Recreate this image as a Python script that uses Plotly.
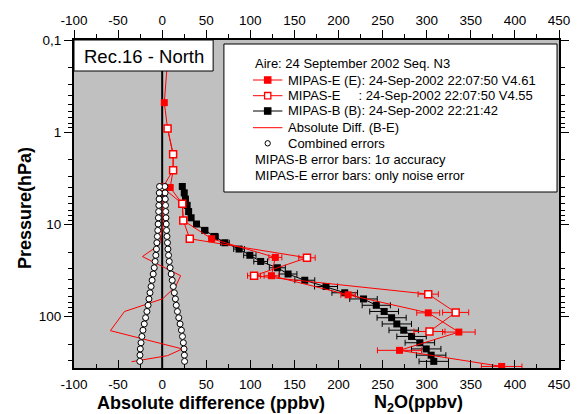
import plotly.graph_objects as go

W, H = 580, 414
ML, MR, MT, MB = 74, 11, 40, 46
PW, PH = W - ML - MR, H - MT - MB


def px(x):
    return (x - ML) / PW


def py(y):
    return (H - MB - y) / PH


# ---------------- data ----------------
# MIPAS-B (balloon) N2O profile
p_b = [3.88, 4.55, 5.31, 6.21, 7.25, 8.48, 9.9, 11.6, 13.5, 15.8, 18.5, 21.6, 25.2, 29.5,
       34.5, 40.3, 47.1, 55.1, 64.3, 75.3, 87.9, 102.8, 120, 140.3, 164, 191.9, 223.9,
       261.8, 305.6]
n2o_b = [22.8, 25, 26.4, 28.3, 30, 32.8, 38.9, 48.3, 59.4, 71.1, 87.2, 99.4, 111.7, 130.6,
         142.8, 161.7, 185.8, 207, 228.3, 242.8, 251.7, 260.2, 266.1, 273.9, 282.8, 292.2,
         299.4, 305, 308]
err_b = [1.6, 1.75, 1.85, 2, 2.1, 2.3, 2.7, 3.4, 4.2, 5, 6.1, 7, 7.8, 9.1, 10, 11.3, 13,
         14.5, 15.6, 16, 16.3, 16.5, 16.6, 16.7, 16.7, 16.7, 16.7, 16.7, 16.7]
# combined errors (plotted as +/-)
comb_err = [3, 3.3, 3.5, 3.8, 4, 4.3, 4.6, 5, 5.5, 6, 6.5, 7.2, 8, 9, 10.2, 11.4, 12.6,
            13.8, 15, 16, 17.3, 18.8, 20.3, 21.8, 23, 24, 24.8, 25.2, 25.4]

# MIPAS-E V4.61 (filled)
p_e = [0.17, 0.478, 0.914, 1.73, 2.58, 3.98, 5.98, 9.07, 14.3, 22.8, 36, 58, 91, 147, 232, 347]
n2o_e = [6.0, 2.4, 6.1, 12.4, 12.4, 9.1, 22.8, 23.9, 56.1, 128.3, 123.9, 210.9, 301.7,
         336.4, 269.1, 385]
err_e = [1, 1.5, 1.5, 2, 2, 2, 2, 2.5, 3, 7.4, 8.3, 8.3, 13, 18.5, 25, 23]

# MIPAS-E V4.55 (open)
p_e2 = [0.914, 1.73, 2.58, 3.98, 5.98, 9.07, 14.3, 23, 36, 57, 90, 145]
n2o_e2 = [6.1, 12.4, 12.4, 0.6, 22.8, 23.9, 31.3, 164.2, 104.2, 301.7, 332.8, 303.1]
err_e2 = [1.5, 1.5, 2, 2, 2, 2, 2, 9.3, 7.4, 11.5, 14.8, 17.6]

# Absolute difference (B-E)
p_diff = [3.9, 6.2, 9.9, 13.5, 16.6, 22.3, 36, 47, 64, 88, 142, 224, 265, 308]
diff = [2, 0, 1, -1, -3, -22.4, 20.9, 15.3, 0.6, -42.8, -58.7, 22.8, 6.1, -34.7]

x_ticks = [-100, -50, 0, 50, 100, 150, 200, 250, 300, 350, 400, 450]
x_ticktext = ["-100", "-50", "0", "50", "100", "150", "200", "250", "300", "350", "400", "450"]
y_ticks = [0.1, 1, 10, 100]
y_ticktext = ["0,1", "1", "10", "100"]

RED = "#ff0000"
FONT = "Liberation Sans, Arial, sans-serif"

fig = go.Figure()

# difference axis (top) traces
fig.add_trace(go.Scatter(x=diff, y=p_diff, xaxis="x2", yaxis="y", mode="lines",
                         line=dict(color=RED, width=1), hoverinfo="skip"))
fig.add_trace(go.Scatter(x=comb_err + [-e for e in comb_err], y=p_b + p_b, xaxis="x2",
                         yaxis="y", mode="markers",
                         marker=dict(symbol="circle", size=6, color="white",
                                     line=dict(color="black", width=1))))
# N2O traces
fig.add_trace(go.Scatter(x=n2o_b, y=p_b, mode="lines+markers",
                         line=dict(color="black", width=1),
                         marker=dict(symbol="square", size=7, color="black"),
                         error_x=dict(type="data", array=err_b, color="black",
                                      thickness=1, width=3)))
fig.add_trace(go.Scatter(x=n2o_e, y=p_e, mode="lines+markers",
                         line=dict(color=RED, width=1),
                         marker=dict(symbol="square", size=7, color=RED),
                         error_x=dict(type="data", array=err_e, color=RED,
                                      thickness=1, width=3)))
fig.add_trace(go.Scatter(x=n2o_e2, y=p_e2, mode="lines+markers",
                         line=dict(color=RED, width=1),
                         marker=dict(symbol="square", size=7, color="white",
                                     line=dict(color=RED, width=1.5)),
                         error_x=dict(type="data", array=err_e2, color=RED,
                                      thickness=1, width=3)))

shapes = []
# zero line
shapes.append(dict(type="line", xref="x", yref="paper", x0=0, x1=0, y0=0, y1=1,
                   line=dict(color="black", width=2), layer="below"))
# Rec box
shapes.append(dict(type="rect", xref="paper", yref="paper", x0=px(74), x1=px(216),
                   y0=py(71), y1=py(40), fillcolor="white",
                   line=dict(color="black", width=1), layer="above"))
# legend box
shapes.append(dict(type="rect", xref="paper", yref="paper", x0=px(227), x1=px(567),
                   y0=py(192), y1=py(44), fillcolor="white",
                   line=dict(color="black", width=1), layer="above"))

rows = [80, 95.7, 111, 127.7, 143.3]
lx0, lx1, lxc = 256.7, 286.7, 271.7


def seg(y, color):
    shapes.append(dict(type="line", xref="paper", yref="paper", x0=px(lx0), x1=px(lx1),
                       y0=py(y), y1=py(y), line=dict(color=color, width=1), layer="above"))


def sq(y, fill, edge, s=3.2):
    shapes.append(dict(type="rect", xref="paper", yref="paper", x0=px(lxc - s), x1=px(lxc + s),
                       y0=py(y + s), y1=py(y - s), fillcolor=fill,
                       line=dict(color=edge, width=1.3), layer="above"))


seg(rows[0], RED); sq(rows[0], RED, RED)
seg(rows[1], RED); sq(rows[1], "white", RED)
seg(rows[2], "black"); sq(rows[2], "black", "black")
seg(rows[3], RED)
shapes.append(dict(type="circle", xref="paper", yref="paper", x0=px(lxc - 2.7), x1=px(lxc + 2.7),
                   y0=py(rows[4] + 2.7), y1=py(rows[4] - 2.7), fillcolor="white",
                   line=dict(color="black", width=1), layer="above"))

ann = []


def txt(x, y, s, size=13, xanchor="left", **kw):
    ann.append(dict(text=s, x=px(x), y=py(y), xref="paper", yref="paper", showarrow=False,
                    xanchor=xanchor, yanchor="middle", font=dict(family=FONT, size=size,
                                                                 color="black"), **kw))


txt(145, 56, "Rec.16 - North", size=18.5, xanchor="center")
txt(256.7, 64, "Aire: 24 September 2002 Seq. N3")
txt(290, rows[0], "MIPAS-E (E): 24-Sep-2002 22:07:50 V4.61")
txt(290, rows[1], "MIPAS-E\u00a0\u00a0\u00a0\u00a0\u00a0: 24-Sep-2002 22:07:50 V4.55")
txt(290, rows[2], "MIPAS-B (B): 24-Sep-2002 22:21:42")
txt(290, rows[3], "Absolute Diff. (B-E)")
txt(290, rows[4], "Combined errors")
txt(256.7, 159.3, "MIPAS-B error bars: 1\u03c3 accuracy")
txt(256.7, 175.3, "MIPAS-E error bars: only noise error")
txt(213.5, 403, "<b>Absolute difference (ppbv)</b>", size=18, xanchor="center")
txt(378, 403, "<b>N<sub>2</sub>O(ppbv)</b>", size=18)
txt(24, 208, "<b>Pressure(hPa)</b>", size=18, xanchor="center", textangle=-90)

axis_common = dict(range=[-100, 450], tickmode="array", tickvals=x_ticks, ticktext=x_ticktext,
                   showgrid=False, zeroline=False, showline=True, linecolor="black",
                   linewidth=2, tickcolor="black", tickwidth=1,
                   tickfont=dict(family=FONT, size=13.5, color="black"))

fig.update_layout(
    width=W, height=H, margin=dict(l=ML, r=MR, t=MT, b=MB, pad=0),
    paper_bgcolor="white", plot_bgcolor="#c0c0c0", showlegend=False,
    font=dict(family=FONT, color="black"),
    xaxis=dict(**axis_common, ticks="inside", ticklen=8, mirror=False,
               ticklabelstandoff=3,
               minor=dict(dtick=25, tick0=0, ticks="inside", ticklen=4, tickcolor="black",
                          showgrid=False)),
    xaxis2=dict(**axis_common, overlaying="x", side="top", anchor="y", ticks="outside",
                ticklen=8,
                minor=dict(dtick=25, tick0=0, ticks="outside", ticklen=4, tickcolor="black",
                           showgrid=False)),
    yaxis=dict(type="log", range=[2.557, -1], tickmode="array", tickvals=y_ticks,
               ticktext=y_ticktext, showgrid=False, zeroline=False, showline=True,
               linecolor="black", linewidth=2, mirror="ticks", ticks="outside", ticklen=8,
               tickcolor="black", tickwidth=1,
               tickfont=dict(family=FONT, size=13.5, color="black"),
               minor=dict(dtick="D1", ticks="outside", ticklen=4, tickcolor="black",
                          showgrid=False)),
    shapes=shapes, annotations=ann,
)

fig.write_html("out.html")
